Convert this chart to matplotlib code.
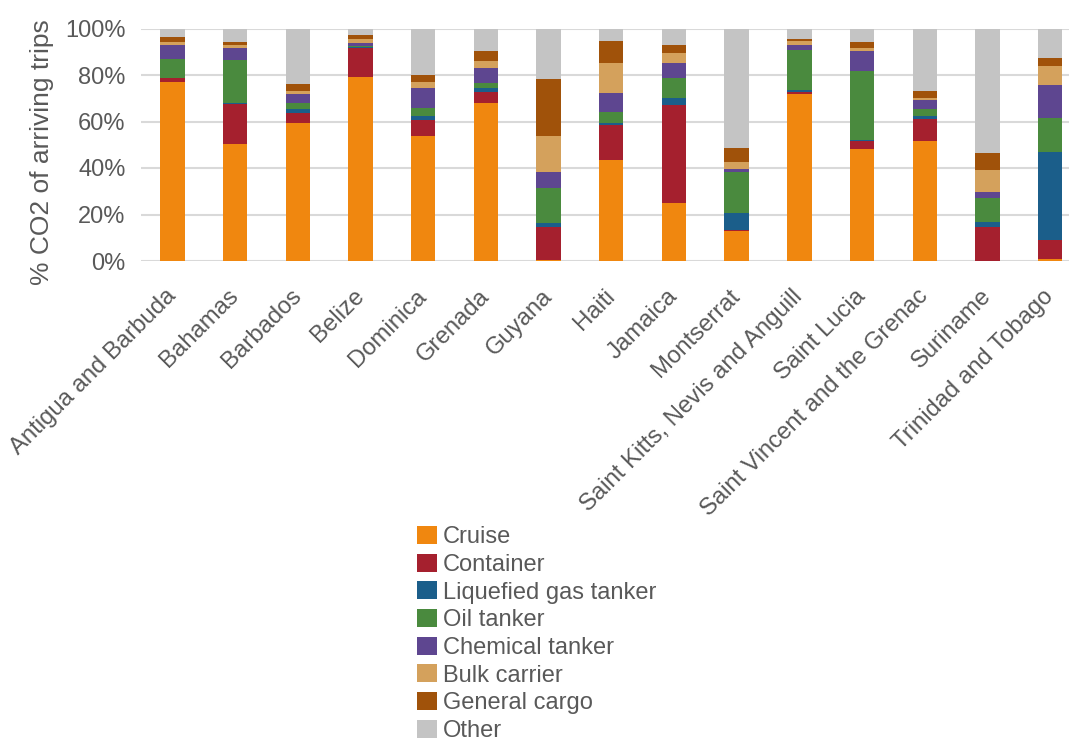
import matplotlib
matplotlib.use("Agg")
import matplotlib.pyplot as plt
import numpy as np
from matplotlib.ticker import FuncFormatter

plt.rcParams['font.family'] = ['Liberation Sans', 'DejaVu Sans']

countries = [
    "Antigua and Barbuda", "Bahamas", "Barbados", "Belize", "Dominica",
    "Grenada", "Guyana", "Haiti", "Jamaica", "Montserrat",
    "Saint Kitts, Nevis and Anguill", "Saint Lucia",
    "Saint Vincent and the Grenac", "Suriname", "Trinidad and Tobago",
]

# share of CO2 (%) by ship type for each country
cruise    = [77.0, 50.5, 59.5, 79.0, 53.7, 68.0,  0.3, 43.4, 24.8, 12.9, 72.0, 48.0, 51.6,  0.0,  1.0]
container = [ 1.5, 17.0,  4.0, 12.4,  6.9,  4.5, 14.5, 15.3, 42.5,  0.3,  0.5,  3.6,  9.4, 14.8,  8.0]
lng       = [ 0.3,  0.3,  1.8,  0.5,  1.9,  1.7,  1.4,  0.5,  2.6,  7.3,  1.0,  0.3,  1.5,  1.8, 38.0]
oil       = [ 8.0, 18.5,  2.5,  0.5,  3.4,  2.2, 15.0,  4.7,  8.9, 17.6, 17.2, 29.8,  2.8, 10.3, 14.3]
chemical  = [ 6.0,  5.3,  4.0,  1.5,  8.6,  6.4,  6.9,  8.2,  6.2,  1.4,  2.1,  8.6,  3.9,  2.6, 14.6]
bulk      = [ 1.2,  1.2,  1.5,  1.5,  2.6,  3.2, 15.8, 12.9,  4.3,  2.9,  1.8,  1.4,  1.0,  9.6,  8.1]
general   = [ 2.5,  1.2,  3.0,  2.0,  3.1,  4.3, 24.3,  9.6,  3.5,  6.3,  0.8,  2.3,  2.9,  7.2,  3.4]
other     = [ 3.5,  6.0, 23.7,  2.6, 19.8,  9.7, 21.8,  5.4,  7.2, 51.3,  4.6,  6.0, 26.9, 53.7, 12.6]

series_names = ["Cruise", "Container", "Liquefied gas tanker", "Oil tanker",
                "Chemical tanker", "Bulk carrier", "General cargo", "Other"]
series_values = [cruise, container, lng, oil, chemical, bulk, general, other]
colors = ["#F0870F", "#A5202E", "#1B5E8A", "#4A8A3E",
          "#5E4690", "#D4A15C", "#A0520A", "#C4C4C4"]

text_color = "#595959"

fig = plt.figure(figsize=(10.69, 7.40), dpi=100)
ax = fig.add_axes([141 / 1069, 1 - 261 / 740, 1 - 141 / 1069, (261 - 28.5) / 740])

x = np.arange(len(countries))
bottom = np.zeros(len(countries))
for name, vals, col in zip(series_names, series_values, colors):
    vals = np.asarray(vals)
    ax.bar(x, vals, 0.39, bottom=bottom, color=col, label=name, zorder=3)
    bottom += vals

ax.set_ylim(0, 100)
ax.set_xlim(-0.5, 14.3)
ax.set_yticks(np.arange(0, 101, 20))
ax.yaxis.set_major_formatter(FuncFormatter(lambda v, p: f"{int(v)}%"))
ax.grid(axis="y", color="#D9D9D9", linewidth=1.5, zorder=0)
ax.set_axisbelow(True)
for s in ax.spines.values():
    s.set_visible(False)

ax.tick_params(axis="y", length=0, pad=11, labelsize=17, labelcolor=text_color)
ax.tick_params(axis="x", length=0, pad=23, labelsize=17.2, labelcolor=text_color)
ax.set_xticks(x)
ax.set_xticklabels(countries, rotation=45, ha="right", va="center",
                   rotation_mode="anchor")

ax.set_ylabel("% CO2 of arriving trips", fontsize=19, color=text_color)
ax.yaxis.set_label_coords(-0.094, 0.47)

fig.legend(loc="upper left", bbox_to_anchor=(417 / 1069, 1 - 526 / 740),
           frameon=False, fontsize=17, labelcolor=text_color,
           handlelength=0.85, handleheight=0.8, handletextpad=0.25,
           labelspacing=0.23, borderpad=0, borderaxespad=0)

fig.savefig("out.png", dpi=100)
